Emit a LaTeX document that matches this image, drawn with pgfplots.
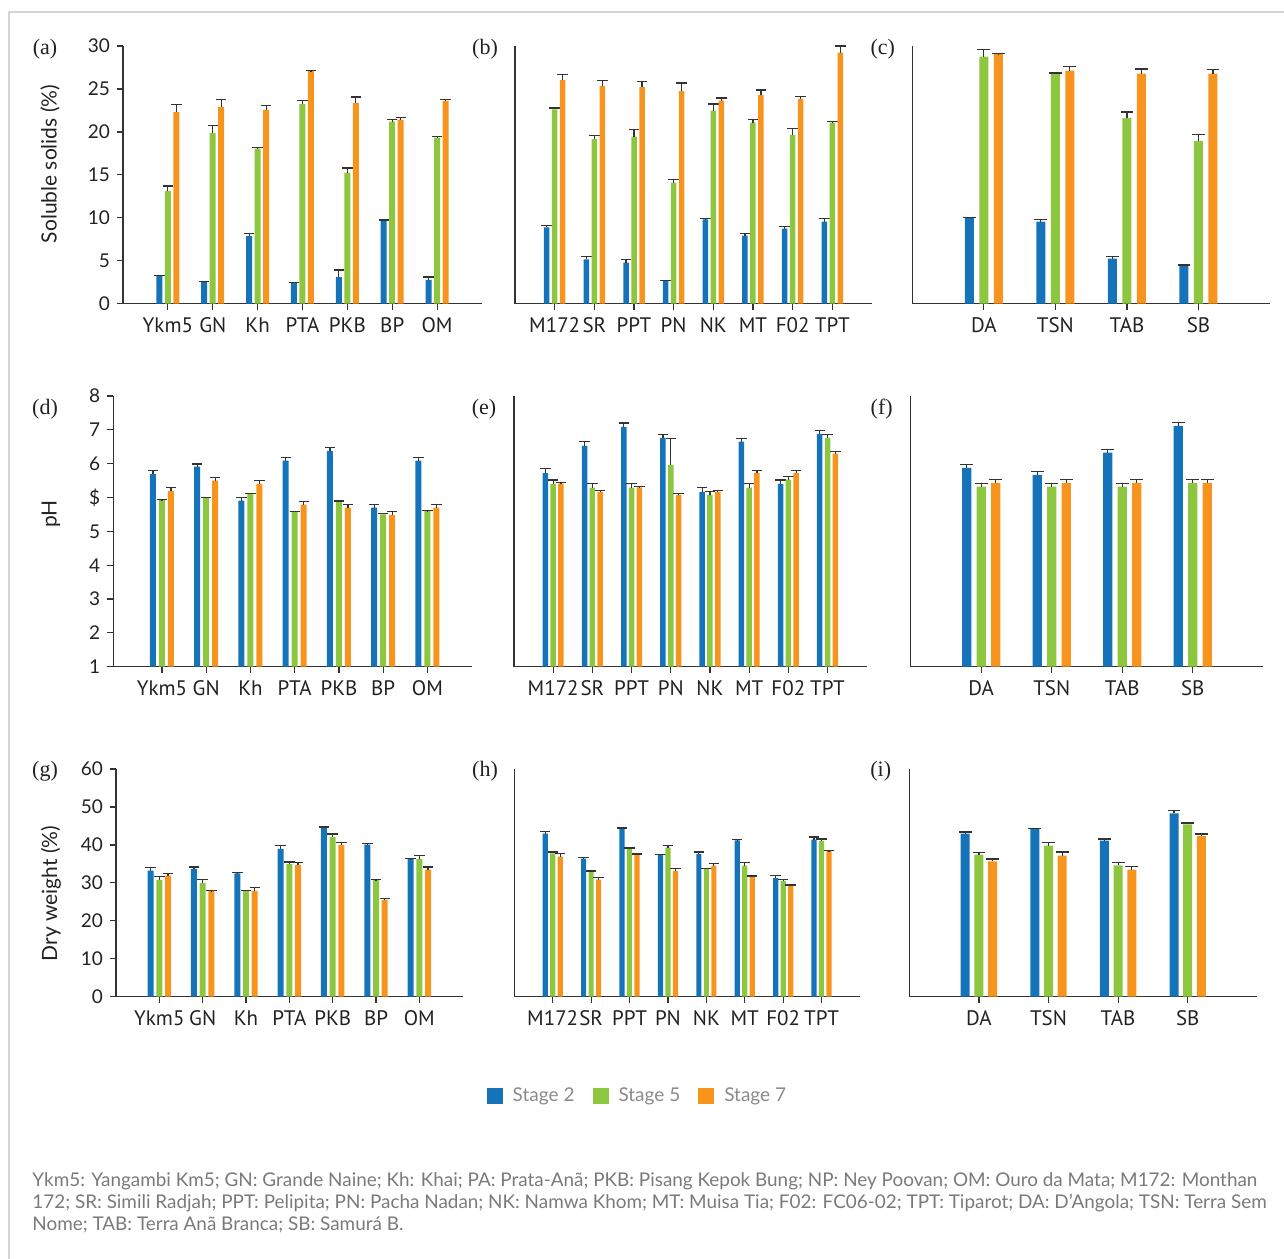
\documentclass[border=0pt]{standalone}
\usepackage{fontspec}
\setmainfont{Lato}
\newfontfamily\panelfont{Liberation Serif}
\newfontfamily\catfont{PT Sans}
\usepackage{pgfplots}
\pgfplotsset{compat=1.18}
\definecolor{cB}{HTML}{1573BA}
\definecolor{cG}{HTML}{8DC63F}
\definecolor{cO}{HTML}{F7941D}
\definecolor{axc}{HTML}{333333}
\definecolor{txc}{HTML}{222222}
\definecolor{legc}{HTML}{8A8A8A}
\definecolor{notec}{HTML}{7A7A7A}
\definecolor{framec}{HTML}{D4D4D4}
\pgfplotsset{
  panel/.style={
    scale only axis, anchor=south west,
    axis lines*=left,
    axis line style={axc, line width=0.75pt},
    tick style={axc, line width=0.6pt},
    tick align=outside, major tick length=3pt,
    ybar, enlargelimits=false, clip=false,
    xticklabel style={font=\catfont\fontsize{10.5}{12}\selectfont, text=txc, yshift=-0.5pt},
    yticklabel style={font=\fontsize{9.5}{11}\selectfont, text=txc},
    /pgf/number format/assume math mode=true,
    error bars/y dir=plus, error bars/y explicit,
    error bars/error bar style={axc, line width=0.6pt},
    error bars/error mark options={rotate=90, axc, mark size=2.6pt, line width=0.6pt},
    legend image code/.code={\fill[#1, draw=none] (0pt,-4pt) rectangle (8pt,4pt);},
  },
  wide/.style={error bars/error mark options={rotate=90, axc, mark size=3.2pt, line width=0.6pt}},
  s2/.style={fill=cB, draw=none, bar shift=-#1},
  s5/.style={fill=cG, draw=none, bar shift=0pt},
  s7/.style={fill=cO, draw=none, bar shift=#1},
  catA/.style={xmin=-1, xmax=7, xtick={0,...,6}, xticklabels={Ykm5,GN,Kh,PTA,PKB,BP,OM}},
  catB/.style={xmin=-1, xmax=8, xtick={0,...,7}, xticklabels={M172,SR,PPT,PN,NK,MT,F02,TPT}, ytick=\empty},
  catC/.style={xmin=-1, xmax=4, xtick={0,...,3}, xticklabels={DA,TSN,TAB,SB}, ytick=\empty},
}
\begin{document}
\begin{tikzpicture}
\path[use as bounding box] (0pt,0pt) rectangle (642pt,-629pt);
\draw[framec, line width=0.8pt] (4.5pt,-640pt) -- (4.5pt,-6pt) -- (650pt,-6pt);

% ---------- row 1: soluble solids ----------
\begin{axis}[panel, catA, at={(61.5pt,-151.85pt)}, width=179.5pt, height=128.85pt,
  ymin=0, ymax=30, ytick={0,5,...,30}, bar width=3pt]
\addplot[s2=4.25pt] coordinates {(0,3.22)+-(0,0.08) (1,2.52)+-(0,0.04) (2,7.88)+-(0,0.31) (3,2.44)+-(0,0.04) (4,3.1)+-(0,0.82) (5,9.66)+-(0,0.08) (6,2.76)+-(0,0.34)};
\addplot[s5] coordinates {(0,13.1)+-(0,0.6) (1,19.87)+-(0,0.83) (2,18.05)+-(0,0.11) (3,23.24)+-(0,0.39) (4,15.25)+-(0,0.54) (5,21.19)+-(0,0.27) (6,19.32)+-(0,0.12)};
\addplot[s7=4.25pt] coordinates {(0,22.3)+-(0,0.9) (1,22.9)+-(0,0.85) (2,22.55)+-(0,0.5) (3,27.09)+-(0,0.04) (4,23.36)+-(0,0.7) (5,21.42)+-(0,0.23) (6,23.6)+-(0,0.15)};
\end{axis}

\begin{axis}[panel, catB, at={(257.5pt,-151.85pt)}, width=178.5pt, height=128.85pt,
  ymin=0, ymax=30, bar width=2.75pt]
\addplot[s2=4pt] coordinates {(0,8.89)+-(0,0.19) (1,5.16)+-(0,0.35) (2,4.77)+-(0,0.35) (3,2.64)+-(0,0.08) (4,9.82)+-(0,0.08) (5,7.92)+-(0,0.27) (6,8.73)+-(0,0.23) (7,9.55)+-(0,0.35)};
\addplot[s5] coordinates {(0,22.62)+-(0,0.16) (1,19.17)+-(0,0.39) (2,19.44)+-(0,0.86) (3,14.09)+-(0,0.38) (4,22.47)+-(0,0.77) (5,21.07)+-(0,0.39) (6,19.64)+-(0,0.77) (7,21.07)+-(0,0.12)};
\addplot[s7=4pt] coordinates {(0,26.04)+-(0,0.66) (1,25.34)+-(0,0.62) (2,25.22)+-(0,0.62) (3,24.76)+-(0,0.93) (4,23.63)+-(0,0.31) (5,24.29)+-(0,0.58) (6,23.86)+-(0,0.24) (7,29.22)+-(0,0.77)};
\end{axis}

\begin{axis}[panel, wide, catC, at={(456.15pt,-151.85pt)}, width=178.85pt, height=128.85pt,
  ymin=0, ymax=30, bar width=4.5pt]
\addplot[s2=7.25pt] coordinates {(0,10.05)+-(0,0.02) (1,9.55)+-(0,0.27) (2,5.24)+-(0,0.23) (3,4.42)+-(0,0.08)};
\addplot[s5] coordinates {(0,28.75)+-(0,0.85) (1,26.8)+-(0,0.05) (2,21.61)+-(0,0.7) (3,18.94)+-(0,0.77)};
\addplot[s7=7.25pt] coordinates {(0,29.1)+-(0,0.02) (1,27.12)+-(0,0.51) (2,26.78)+-(0,0.54) (3,26.78)+-(0,0.5)};
\end{axis}

% ---------- row 2: pH ----------
\begin{axis}[panel, catA, at={(56.65pt,-333.35pt)}, width=179.2pt, height=135.35pt, xmin=-1.1,
  ymin=1, ymax=9, ytick={1,...,9}, yticklabels={1,2,3,4,5,\$,6,7,8}, bar width=3pt]
\addplot[s2=4.5pt] coordinates {(0,6.69)+-(0,0.10) (1,6.91)+-(0,0.08) (2,5.91)+-(0,0.09) (3,7.09)+-(0,0.10) (4,7.38)+-(0,0.10) (5,5.70)+-(0,0.09) (6,7.09)+-(0,0.10)};
\addplot[s5] coordinates {(0,5.93)+-(0,0.01) (1,6.00)+-(0,0.01) (2,6.11)+-(0,0.01) (3,5.58)+-(0,0.01) (4,5.89)+-(0,0.01) (5,5.50)+-(0,0.03) (6,5.60)+-(0,0.01)};
\addplot[s7=4.5pt] coordinates {(0,6.19)+-(0,0.10) (1,6.50)+-(0,0.09) (2,6.40)+-(0,0.10) (3,5.79)+-(0,0.10) (4,5.70)+-(0,0.10) (5,5.49)+-(0,0.10) (6,5.70)+-(0,0.10)};
\end{axis}

\begin{axis}[panel, catB, at={(257pt,-333.35pt)}, width=176.35pt, height=135.35pt,
  ymin=1, ymax=9, bar width=2.75pt]
\addplot[s2=3.9pt] coordinates {(0,6.72)+-(0,0.13) (1,7.53)+-(0,0.12) (2,8.09)+-(0,0.11) (3,7.76)+-(0,0.11) (4,6.17)+-(0,0.12) (5,7.65)+-(0,0.10) (6,6.40)+-(0,0.12) (7,7.88)+-(0,0.10)};
\addplot[s5] coordinates {(0,6.40)+-(0,0.12) (1,6.29)+-(0,0.12) (2,6.29)+-(0,0.12) (3,6.96)+-(0,0.79) (4,6.07)+-(0,0.10) (5,6.29)+-(0,0.12) (6,6.53)+-(0,0.10) (7,7.76)+-(0,0.11)};
\addplot[s7=3.9pt] coordinates {(0,6.41)+-(0,0.03) (1,6.17)+-(0,0.04) (2,6.30)+-(0,0.02) (3,6.07)+-(0,0.06) (4,6.17)+-(0,0.04) (5,6.72)+-(0,0.07) (6,6.72)+-(0,0.09) (7,7.30)+-(0,0.06)};
\end{axis}

\begin{axis}[panel, wide, catC, at={(455.35pt,-333.35pt)}, width=176.3pt, height=135.35pt,
  ymin=1, ymax=9, bar width=4.6pt]
\addplot[s2=7.25pt] coordinates {(0,6.88)+-(0,0.10) (1,6.67)+-(0,0.09) (2,7.33)+-(0,0.10) (3,8.12)+-(0,0.10)};
\addplot[s5] coordinates {(0,6.32)+-(0,0.10) (1,6.32)+-(0,0.10) (2,6.32)+-(0,0.10) (3,6.43)+-(0,0.11)};
\addplot[s7=7.25pt] coordinates {(0,6.43)+-(0,0.11) (1,6.43)+-(0,0.11) (2,6.43)+-(0,0.11) (3,6.43)+-(0,0.11)};
\end{axis}

% ---------- row 3: dry weight ----------
\begin{axis}[panel, catA, at={(58pt,-498.35pt)}, width=173.35pt, height=113.85pt,
  ymin=0, ymax=60, ytick={0,10,...,60}, bar width=3pt]
\addplot[s2=4.35pt] coordinates {(0,33.2)+-(0,0.8) (1,33.66)+-(0,0.54) (2,32.5)+-(0,0.2) (3,38.93)+-(0,0.87) (4,44.64)+-(0,0.09) (5,40.07)+-(0,0.26) (6,36.3)+-(0,0.1)};
\addplot[s5] coordinates {(0,30.76)+-(0,0.84) (1,29.96)+-(0,0.88) (2,28.03)+-(0,0.02) (3,34.97)+-(0,0.53) (4,42.1)+-(0,0.8) (5,30.76)+-(0,0.08) (6,36.3)+-(0,0.96)};
\addplot[s7=4.35pt] coordinates {(0,31.9)+-(0,0.6) (1,27.86)+-(0,0.08) (2,27.86)+-(0,0.94) (3,34.7)+-(0,0.6) (4,40.0)+-(0,0.6) (5,25.5)+-(0,0.3) (6,33.5)+-(0,0.7)};
\end{axis}

\begin{axis}[panel, catB, at={(257.15pt,-498.35pt)}, width=172.85pt, height=113.85pt,
  ymin=0, ymax=60, bar width=2.6pt,
  legend style={draw=none, fill=none, legend columns=3, at={(0.359,-0.438)}, anchor=center,
    font=\fontsize{9.5}{11}\selectfont, text=legc,
    /tikz/every odd column/.append style={column sep=3pt},
    /tikz/every even column/.append style={column sep=7pt}},
  legend cell align=left]
\addplot[s2=3.75pt] coordinates {(0,42.97)+-(0,0.53) (1,36.38)+-(0,0.26) (2,44.29)+-(0,0.17) (3,37.43)+-(0,0.07) (4,37.6)+-(0,0.54) (5,41.2)+-(0,0.2) (6,31.28)+-(0,0.62) (7,41.4)+-(0,0.7)};
\addplot[s5] coordinates {(0,37.79)+-(0,0.35) (1,32.86)+-(0,0.27) (2,39.1)+-(0,0.09) (3,39.28)+-(0,0.52) (4,33.74)+-(0,0.09) (5,34.53)+-(0,0.77) (6,30.49)+-(0,0.44) (7,41.04)+-(0,0.52)};
\addplot[s7=3.75pt] coordinates {(0,36.9)+-(0,0.8) (1,30.84)+-(0,0.62) (2,37.6)+-(0,0.0) (3,33.13)+-(0,0.7) (4,34.53)+-(0,0.62) (5,31.63)+-(0,0.17) (6,29.44)+-(0,0.0) (7,38.4)+-(0,0.1)};
\legend{Stage 2, Stage 5, Stage 7}
\end{axis}

\begin{axis}[panel, wide, catC, at={(454.65pt,-498.35pt)}, width=174pt, height=113.85pt,
  ymin=0, ymax=60, bar width=4.5pt]
\addplot[s2=6.85pt] coordinates {(0,42.97)+-(0,0.43) (1,44.29)+-(0,0.0) (2,41.13)+-(0,0.43) (3,48.3)+-(0,0.8)};
\addplot[s5] coordinates {(0,37.43)+-(0,0.62) (1,39.8)+-(0,0.9) (2,34.6)+-(0,0.7) (3,45.4)+-(0,0.4)};
\addplot[s7=6.85pt] coordinates {(0,35.68)+-(0,0.62) (1,37.17)+-(0,0.97) (2,33.5)+-(0,0.9) (3,42.4)+-(0,0.5)};
\end{axis}

% ---------- labels ----------
\begin{scope}[every node/.style={font=\panelfont\fontsize{11}{12}\selectfont, text=txc, anchor=base}]
\node at (22.5pt,-27.25pt) {(a)};
\node at (242.5pt,-27.25pt) {(b)};
\node at (441.35pt,-27.25pt) {(c)};
\node at (22.5pt,-207.15pt) {(d)};
\node at (242pt,-207.15pt) {(e)};
\node at (440.85pt,-207.15pt) {(f)};
\node at (22.5pt,-388pt) {(g)};
\node at (242.5pt,-388pt) {(h)};
\node at (440.35pt,-388pt) {(i)};
\end{scope}
\begin{scope}[every node/.style={font=\fontsize{10.5}{12}\selectfont, text=txc, rotate=90, anchor=center}]
\node at (25pt,-82pt) {Soluble solids (\%)};
\node at (25.5pt,-257pt) {pH};
\node at (25.5pt,-446.7pt) {Dry weight (\%)};
\end{scope}
\node[anchor=north west, align=left, inner sep=0pt, text=notec, font=\fontsize{9.45}{11}\selectfont] at (16pt,-586pt)
{Ykm5: Yangambi Km5; GN: Grande Naine; Kh: Khai; PA: Prata-Anã; PKB: Pisang Kepok Bung; NP: Ney Poovan; OM: Ouro da Mata; M172: Monthan\\
172; SR: Simili Radjah; PPT: Pelipita; PN: Pacha Nadan; NK: Namwa Khom; MT: Muisa Tia; F02: FC06-02; TPT: Tiparot; DA: D’Angola; TSN: Terra Sem\\
Nome; TAB: Terra Anã Branca; SB: Samurá B.};
\end{tikzpicture}
\end{document}
